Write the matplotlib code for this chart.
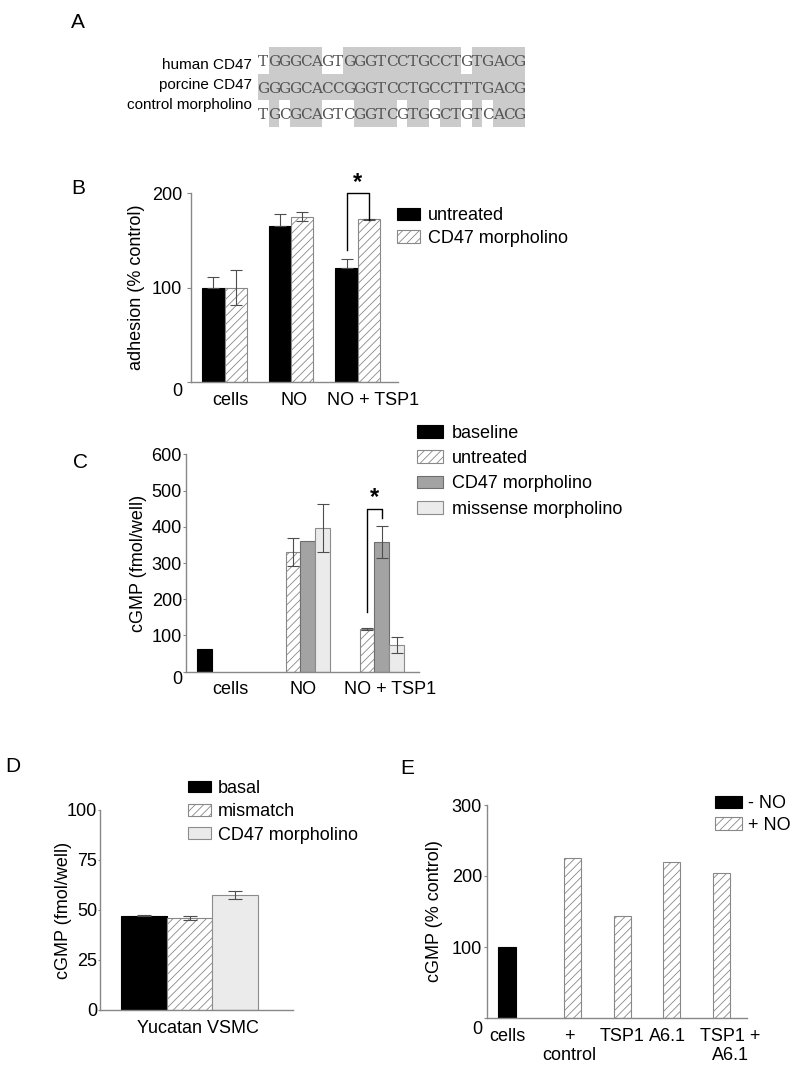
import numpy as np
import matplotlib
matplotlib.use("Agg")
import matplotlib.pyplot as plt
from matplotlib.colors import ListedColormap
from matplotlib.patches import Patch
from matplotlib.transforms import ScaledTranslation

plt.rcParams["font.family"] = ["Liberation Sans", "DejaVu Sans"]
plt.rcParams["font.size"] = 13
plt.rcParams["hatch.linewidth"] = 0.6

# ---- data ----
seq_names = ["human CD47", "porcine CD47", "control morpholino"]
seqs = ["TGGGCAGTGGGTCCTGCCTGTGACG",
        "GGGGCACCGGGTCCTGCCTTTGACG",
        "TGCGCAGTCGGTCGTGGCTGTCACG"]

b_groups = ["cells", "NO", "NO + TSP1"]
b_untreated = [100, 165, 121]
b_untreated_err = [11, 13, 9]
b_cd47 = [100, 175, 172]
b_cd47_err = [19, 4.5, 1]

c_groups = ["cells", "NO", "NO + TSP1"]
c_baseline = [62, np.nan, np.nan]
c_baseline_err = [np.nan, np.nan, np.nan]
c_untreated = [np.nan, 330, 118]
c_untreated_err = [np.nan, 39, 3]
c_cd47 = [np.nan, 360, 358]
c_cd47_err = [np.nan, np.nan, 45]
c_missense = [np.nan, 397, 73]
c_missense_err = [np.nan, 66, 22]

d_series = ["basal", "mismatch", "CD47 morpholino"]
d_vals = [47, 46.2, 57.5]
d_err = [0.7, 1.0, 1.8]

e_cats = ["cells", "+\ncontrol", "TSP1", "A6.1", "TSP1 +\nA6.1"]
e_minus_no = [100, np.nan, np.nan, np.nan, np.nan]
e_plus_no = [np.nan, 225, 143, 220, 204]

# ---- style ----
W, H = 800, 1075
GREY = "#888888"
ECOL = "#4d4d4d"
HATCH = dict(facecolor="white", edgecolor=GREY, hatch="////")
BLACK = dict(facecolor="black", edgecolor="black")
DARK = dict(facecolor="#a3a3a3", edgecolor="#6e6e6e")
LIGHT = dict(facecolor="#ebebeb", edgecolor="#8c8c8c")

fig = plt.figure(figsize=(W / 100, H / 100), dpi=100)


def px_axes(left, top, right, bottom):
    return fig.add_axes([left / W, 1 - bottom / H, (right - left) / W, (bottom - top) / H])


def style(ax, tlen, tpad):
    # tick length / pad given in pixels (dpi 100 -> 0.72 pt per px)
    for s in ("top", "right"):
        ax.spines[s].set_visible(False)
    for s in ("left", "bottom"):
        ax.spines[s].set_color(GREY)
        ax.spines[s].set_linewidth(1.0)
    ax.tick_params(axis="y", length=tlen * 0.72, width=0.8, color=GREY, pad=tpad * 0.72, labelsize=13)
    ax.tick_params(axis="x", length=0, pad=7, labelsize=13)


def shift(lbl, dx=0, dy=0):
    lbl.set_transform(lbl.get_transform() + ScaledTranslation(dx / 100, -dy / 100, fig.dpi_scale_trans))


def legend_at(ax, handles, labels, x_px, yc_px, hl, hh, tp, ls):
    ax.legend(handles, labels, loc="upper left",
              bbox_to_anchor=(x_px / W, 1 - (yc_px - 8) / H), bbox_transform=fig.transFigure,
              frameon=False, borderpad=0, borderaxespad=0, fontsize=13,
              handlelength=hl, handleheight=hh, handletextpad=tp, labelspacing=ls)


def panel(letter, x, y):
    fig.text(x / W, 1 - y / H, letter, fontsize=15, ha="center", va="center")


# ---- A: sequence alignment ----
axA = px_axes(258, 46.7, 525, 126.7)
match = np.array([[c == p for c, p in zip(s, seqs[1])] for s in seqs], dtype=float)
axA.imshow(match, cmap=ListedColormap(["white", "#cbcbcb"]), extent=(0, len(seqs[0]), 3, 0),
           aspect="auto", interpolation="nearest", vmin=0, vmax=1)
for r, s in enumerate(seqs):
    for i, ch in enumerate(s):
        axA.text(i + 0.5, r + 0.72, ch, ha="center", va="baseline", fontsize=11,
                 family="DejaVu Serif", color="#555555")
label_y = [0.69, 1.44, 2.19]
for r, name in enumerate(seq_names):
    axA.text(-0.56, label_y[r], name, ha="right", va="center", fontsize=11)
axA.set_xlim(0, len(seqs[0])); axA.set_ylim(3, 0); axA.axis("off")
panel("A", 78, 23)

# ---- B: adhesion ----
axB = px_axes(191, 193, 398, 382)
xb = np.arange(len(b_groups)) * 3
axB.bar(xb - 0.5, b_untreated, 1, lw=0.8, **BLACK)
axB.bar(xb + 0.5, b_cd47, 1, lw=0.8, **HATCH)
axB.errorbar(xb - 0.5, b_untreated, yerr=[np.zeros(3), b_untreated_err], fmt="none",
             ecolor=ECOL, elinewidth=0.8, capsize=4, capthick=0.8)
axB.errorbar(xb + 0.5, b_cd47, yerr=b_cd47_err, fmt="none",
             ecolor=ECOL, elinewidth=0.8, capsize=4, capthick=0.8)
axB.plot([xb[2] - 0.5, xb[2] - 0.5, xb[2] + 0.5, xb[2] + 0.5], [140, 200.5, 200.5, 171],
         color="black", lw=1, clip_on=False)
axB.text(xb[2], 204, "*", ha="center", va="baseline", fontsize=17, fontweight="bold")
axB.set_xlim(-1.51, 7.82); axB.set_ylim(0, 200)
axB.set_yticks([0, 100, 200])
axB.set_xticks(xb, b_groups)
axB.set_ylabel("adhesion (% control)", fontsize=13)
style(axB, 4, 5)
axB.yaxis.set_label_coords(-0.222, 0.5)
for lbl, dx in zip(axB.get_xticklabels(), [5.5, 3, 15]):
    shift(lbl, dx)
shift(axB.get_yticklabels()[0], 0, 8)
legend_at(axB, [Patch(lw=0.8, **BLACK), Patch(lw=0.8, **HATCH)], ["untreated", "CD47 morpholino"],
          397, 215, 1.27, 0.66, 0.44, 0.32)
panel("B", 78, 188)

# ---- C: cGMP ----
axC = px_axes(186, 454.3, 419, 671.7)
xc = np.arange(len(c_groups)) * 5
c_series = [("baseline", c_baseline, c_baseline_err, BLACK),
            ("untreated", c_untreated, c_untreated_err, HATCH),
            ("CD47 morpholino", c_cd47, c_cd47_err, DARK),
            ("missense morpholino", c_missense, c_missense_err, LIGHT)]
for k, (name, vals, errs, st) in enumerate(c_series):
    v = np.array(vals, float); e = np.array(errs, float)
    ok = ~np.isnan(v)
    axC.bar(xc[ok] + k, v[ok], 1, lw=0.8, **st)
    eok = ok & ~np.isnan(e)
    if eok.any():
        axC.errorbar(xc[eok] + k, v[eok], yerr=e[eok], fmt="none",
                     ecolor=ECOL, elinewidth=0.8, capsize=4, capthick=0.8)
axC.plot([xc[2] + 1, xc[2] + 1, xc[2] + 2, xc[2] + 2], [164, 449, 449, 424],
         color="black", lw=1, clip_on=False)
axC.text(xc[2] + 1.5, 463, "*", ha="center", va="baseline", fontsize=17, fontweight="bold")
axC.set_xlim(-1.23, 14.51); axC.set_ylim(0, 600)
axC.set_yticks(np.arange(0, 601, 100))
axC.set_xticks(xc + 1.5, c_groups)
axC.set_ylabel("cGMP (fmol/well)", fontsize=13)
style(axC, 3, 1)
axC.yaxis.set_label_coords(-0.167, 0.5)
for lbl, dx in zip(axC.get_xticklabels(), [3.6, 2.3, 15.6]):
    shift(lbl, dx)
shift(axC.get_yticklabels()[0], 0, 6)
legend_at(axC, [Patch(lw=0.8, **st) for _, _, _, st in c_series], [n for n, _, _, _ in c_series],
          417, 432.7, 1.42, 0.72, 0.52, 0.46)
panel("C", 80, 462)

# ---- D: Yucatan VSMC ----
axD = px_axes(100, 810, 293, 1010)
d_styles = [BLACK, HATCH, LIGHT]
for k, (v, e, st) in enumerate(zip(d_vals, d_err, d_styles)):
    axD.bar(k, v, 1, lw=0.8, **st)
    axD.errorbar(k, v, yerr=[[0 if k == 0 else e], [e]], fmt="none",
                 ecolor=ECOL, elinewidth=0.8, capsize=5, capthick=0.8)
axD.set_xlim(-0.965, 3.27); axD.set_ylim(0, 100)
axD.set_yticks([0, 25, 50, 75, 100])
axD.set_xticks([1], ["Yucatan VSMC"])
axD.set_ylabel("cGMP (fmol/well)", fontsize=13)
style(axD, 2, 1)
axD.yaxis.set_label_coords(-0.145, 0.5)
shift(axD.get_xticklabels()[0], 8)
legend_at(axD, [Patch(lw=0.8, **st) for st in d_styles], d_series,
          188, 788, 1.27, 0.62, 0.39, 0.35)
panel("D", 13, 767)

# ---- E: cGMP % control ----
axE = px_axes(487, 805, 747, 1018)
xe = np.array([0, 1.33, 2.33, 3.33, 4.33])
m = np.array(e_minus_no, float); p = np.array(e_plus_no, float)
axE.bar(xe[~np.isnan(m)], m[~np.isnan(m)], 0.345, lw=0.8, **BLACK)
axE.bar(xe[~np.isnan(p)], p[~np.isnan(p)], 0.345, lw=0.8, **HATCH)
axE.set_xlim(-0.404, 4.85); axE.set_ylim(0, 300)
axE.set_yticks([0, 100, 200, 300])
axE.set_xticks(xe, e_cats)
axE.set_ylabel("cGMP (% control)", fontsize=13)
style(axE, 3, 2)
axE.yaxis.set_label_coords(-0.169, 0.5)
for lbl, dx in zip(axE.get_xticklabels(), [0, -3, 0, -4, 9]):
    shift(lbl, dx)
shift(axE.get_yticklabels()[0], 0, 9)
legend_at(axE, [Patch(lw=0.8, **BLACK), Patch(lw=0.8, **HATCH)], ["- NO", "+ NO"],
          715, 803, 1.5, 0.66, 0.33, 0.27)
panel("E", 407, 768)

fig.savefig("out.png", dpi=100)
